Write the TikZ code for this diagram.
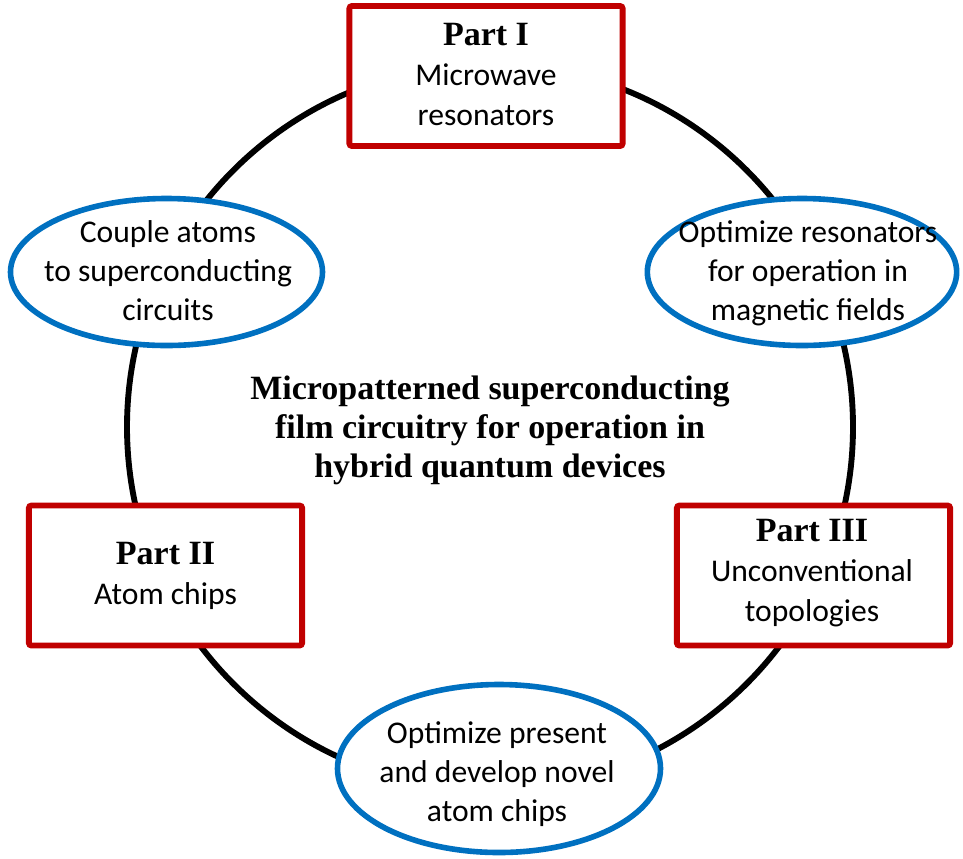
\documentclass[tikz,border=0pt]{standalone}
\usepackage{fontspec}
\usetikzlibrary{shapes.geometric}
\newfontfamily\carl{Carlito}
\newfontfamily\tnr{Liberation Serif}
\definecolor{partred}{HTML}{C00000}
\definecolor{ellblue}{HTML}{0070C0}
\begin{document}
\begin{tikzpicture}[x=0.75pt,y=-0.75pt,
  partbox/.style={draw=partred, line width=4.4pt, fill=white, rounded corners=2pt,
    minimum width=205pt, minimum height=105pt, inner sep=0pt},
  goal/.style={draw=ellblue, ellipse, line width=4.2pt, fill=white, inner sep=0pt},
  ring/.style={draw=black, circle, line width=4.4pt, inner sep=0pt, minimum size=544.5pt},
  sanstxt/.style={align=center, inner sep=0pt, font=\carl\fontsize{23.7}{29.25}\selectfont},
  parttxt/.style={align=center, inner sep=0pt, font=\fontsize{23.7}{30}\selectfont},
  centertxt/.style={align=center, inner sep=0pt, font=\tnr\bfseries\fontsize{25.5}{29.25}\selectfont}
]
\useasboundingbox (0,0) rectangle (963,858);
\node[ring] (circ) at (490,427) {};
% part boxes
\node[partbox] (p1) at (486,76) {};
\node[partbox] (p2) at (165.5,575.5) {};
\node[partbox] (p3) at (813.5,575.5) {};
% goal ellipses
\node[goal, minimum width=234pt, minimum height=110.25pt] (e1) at (166.5,272) {};
\node[goal, minimum width=232pt, minimum height=110.25pt] (e2) at (802,272) {};
\node[goal, minimum width=242.25pt, minimum height=126pt] (e3) at (499,768.5) {};
% texts
\node[parttxt] (t1) at (486,77) {{\tnr\bfseries\fontsize{25.5}{30}\selectfont\strut Part I}\\\carl\strut Microwave\\\carl\strut resonators};
\node[parttxt] (t2) at (165.5,576) {{\tnr\bfseries\fontsize{25.5}{30}\selectfont\strut Part II}\\\carl\strut Atom chips};
\node[parttxt] (t3) at (812,573.5) {{\tnr\bfseries\fontsize{25.5}{30}\selectfont\strut Part III}\\\carl\strut Unconventional\\\carl\strut topologies};
\node[sanstxt] (t4) at (168,273.7) {\strut Couple atoms\\\strut to superconducting\\\strut circuits};
\node[sanstxt] (t5) at (808,274) {\strut Optimize resonators\\\strut for operation in\\\strut magnetic fields};
\node[sanstxt] (t6) at (497,774.7) {\strut Optimize present\\\strut and develop novel\\\strut atom chips};
\node[centertxt] (t0) at (490,431) {\strut Micropatterned superconducting\\\strut film circuitry for operation in\\\strut hybrid quantum devices};
\end{tikzpicture}
\end{document}
